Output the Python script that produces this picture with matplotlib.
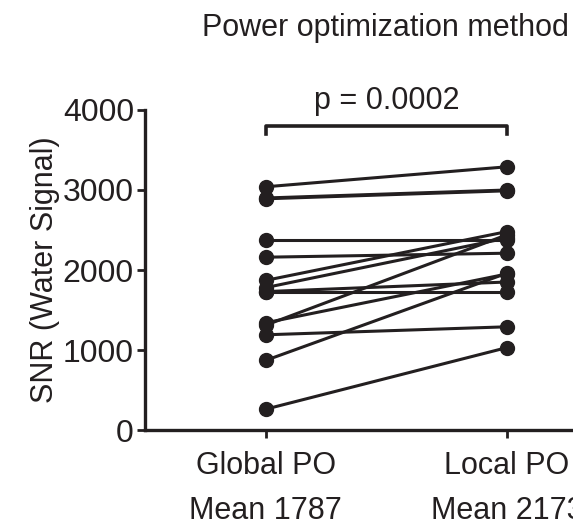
import matplotlib.pyplot as plt

plt.rcParams['font.family'] = ['Liberation Sans', 'DejaVu Sans']

groups = ['Global PO', 'Local PO']
means = ['Mean 1787', 'Mean 2173']
global_po = [3040, 2900, 2890, 2375, 2160, 1870, 1780, 1730, 1720, 1340, 1310, 1190, 870, 260]
local_po = [3290, 3000, 2990, 2375, 2210, 2480, 2400, 1850, 1720, 1950, 2440, 1290, 1960, 1030]
p_text = 'p = 0.0002'

ink = '#231f20'

fig = plt.figure(figsize=(5.73, 5.25), dpi=100)
ax = fig.add_axes([145 / 573, 95 / 525, (627.5 - 145) / 573, 320 / 525])

for g, l in zip(global_po, local_po):
    ax.plot([0, 1], [g, l], '-o', color=ink, lw=2.2, markersize=10, clip_on=False)

# significance bracket
ax.plot([0, 0, 1, 1], [3700, 3800, 3800, 3700], color=ink, lw=2.6, clip_on=False)
ax.text(0.5, 3930, p_text, ha='center', va='bottom', fontsize=22, color=ink)

ax.set_xlim(-0.5, 1.5)
ax.set_ylim(0, 4000)
ax.set_yticks([0, 1000, 2000, 3000, 4000])
ax.set_xticks([0, 1])
ax.set_xticklabels([g + '\n' + m for g, m in zip(groups, means)], fontsize=22, color=ink)
for lab in ax.get_xticklabels():
    lab.set_linespacing(1.65)
ax.tick_params(axis='y', labelsize=23, width=2, length=6, colors=ink, pad=2)
ax.tick_params(axis='x', width=2, length=6, colors=ink, pad=9)
ax.set_ylabel('SNR (Water Signal)', fontsize=22, color=ink, labelpad=2)

for s in ['top', 'right']:
    ax.spines[s].set_visible(False)
for s in ['left', 'bottom']:
    ax.spines[s].set_linewidth(2.4)
    ax.spines[s].set_color(ink)

fig.text(385 / 573, 1 - 28 / 525, 'Power optimization method', ha='center', va='center',
         fontsize=22, color=ink)

fig.savefig('out.png', dpi=100)
